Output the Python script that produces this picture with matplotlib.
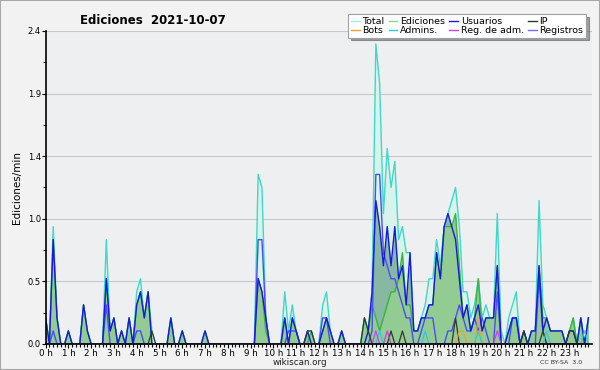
import matplotlib
matplotlib.use("Agg")
import matplotlib.pyplot as plt
from matplotlib.lines import Line2D
import numpy as np

# ediciones por minuto, un valor cada 10 minutos (6 por hora)
total = [
    0.2, 0, 0.9, 0.2, 0, 0,      0.1, 0, 0, 0, 0.3, 0.1,
    0, 0, 0, 0, 0.8, 0.1,        0.2, 0, 0.1, 0, 0.2, 0,
    0.4, 0.5, 0.2, 0.4, 0.1, 0,  0, 0, 0, 0.2, 0, 0,
    0.1, 0, 0, 0, 0, 0,          0.1, 0, 0, 0, 0, 0,
    0, 0, 0, 0, 0, 0,            0, 0, 1.3, 1.2, 0.2, 0,
    0, 0, 0, 0.4, 0.1, 0.3,      0.1, 0, 0, 0.1, 0.1, 0,
    0, 0.3, 0.4, 0.1, 0, 0,      0.1, 0, 0, 0, 0, 0,
    0.2, 0.1, 0.4, 2.3, 2.0, 1.0,    1.5, 1.2, 1.4, 0.8, 0.9, 0.7,
    0.7, 0.1, 0.1, 0.2, 0.3, 0.5,    0.5, 0.8, 0.6, 0.9, 1.0, 1.1,
    1.2, 0.9, 0.4, 0.4, 0.2, 0.3,    0.5, 0.2, 0.3, 0.2, 0.2, 1.0,
    0.1, 0, 0.2, 0.3, 0.4, 0,        0.1, 0, 0.1, 0.1, 1.1, 0.3,
    0.2, 0.1, 0.1, 0.1, 0.1, 0,      0.1, 0.2, 0, 0.2, 0, 0.2,
]
ediciones = [
    0.2, 0, 0.8, 0.2, 0, 0,      0.1, 0, 0, 0, 0.3, 0.1,
    0, 0, 0, 0, 0.5, 0.1,        0.2, 0, 0.1, 0, 0.2, 0,
    0.3, 0.4, 0.2, 0.4, 0, 0,    0, 0, 0, 0.2, 0, 0,
    0.1, 0, 0, 0, 0, 0,          0.1, 0, 0, 0, 0, 0,
    0, 0, 0, 0, 0, 0,            0, 0, 0.5, 0.4, 0.1, 0,
    0, 0, 0, 0.2, 0, 0.2,        0.1, 0, 0, 0, 0.1, 0,
    0, 0.1, 0.2, 0.1, 0, 0,      0.1, 0, 0, 0, 0, 0,
    0.2, 0.1, 0.3, 0.2, 0.1, 0.2,    0.3, 0.4, 0.4, 0.5, 0.7, 0.3,
    0.3, 0.1, 0.1, 0.2, 0.2, 0.3,    0.3, 0.7, 0.5, 0.9, 0.9, 0.9,
    1.0, 0.6, 0.2, 0.3, 0.1, 0.2,    0.5, 0.1, 0.2, 0.2, 0.2, 0.6,
    0, 0, 0.1, 0.2, 0.2, 0,          0.1, 0, 0.1, 0.1, 0.6, 0.2,
    0.2, 0.1, 0.1, 0.1, 0.1, 0,      0.1, 0.2, 0, 0.2, 0, 0.2,
]
usuarios = [
    0.2, 0, 0.8, 0.2, 0, 0,      0.1, 0, 0, 0, 0.3, 0.1,
    0, 0, 0, 0, 0.5, 0.1,        0.2, 0, 0.1, 0, 0.2, 0,
    0.3, 0.4, 0.2, 0.4, 0, 0,    0, 0, 0, 0.2, 0, 0,
    0.1, 0, 0, 0, 0, 0,          0.1, 0, 0, 0, 0, 0,
    0, 0, 0, 0, 0, 0,            0, 0, 0.5, 0.4, 0.2, 0,
    0, 0, 0, 0.2, 0, 0.2,        0.1, 0, 0, 0.1, 0, 0,
    0, 0.1, 0.2, 0.1, 0, 0,      0.1, 0, 0, 0, 0, 0,
    0, 0.1, 0.4, 1.1, 0.9, 0.6,      0.9, 0.6, 0.9, 0.5, 0.6, 0.3,
    0.7, 0.1, 0.1, 0.2, 0.2, 0.3,    0.3, 0.7, 0.5, 0.9, 1.0, 0.9,
    0.8, 0.5, 0.2, 0.3, 0.1, 0.2,    0.3, 0.1, 0.2, 0.2, 0.2, 0.6,
    0, 0, 0.1, 0.2, 0.2, 0,          0.1, 0, 0.1, 0.1, 0.6, 0.1,
    0.2, 0.1, 0.1, 0.1, 0.1, 0,      0.1, 0.1, 0, 0.2, 0, 0.2,
]
registros = [
    0, 0, 0.1, 0, 0, 0,          0, 0, 0, 0, 0, 0,
    0, 0, 0, 0, 0.3, 0,          0, 0, 0, 0, 0, 0,
    0.1, 0.1, 0, 0, 0, 0,        0, 0, 0, 0, 0, 0,
    0, 0, 0, 0, 0, 0,            0, 0, 0, 0, 0, 0,
    0, 0, 0, 0, 0, 0,            0, 0, 0.8, 0.8, 0.2, 0,
    0, 0, 0, 0, 0.1, 0.1,        0.1, 0, 0, 0, 0, 0,
    0, 0.2, 0.2, 0, 0, 0,        0, 0, 0, 0, 0, 0,
    0, 0, 0.1, 1.3, 1.3, 0.7,    0.6, 0.5, 0.5, 0.4, 0.3, 0.2,
    0.2, 0, 0, 0.1, 0.2, 0.2,    0.2, 0, 0, 0, 0.1, 0.1,
    0.2, 0.3, 0.2, 0.1, 0.1, 0.2,    0.1, 0.2, 0.1, 0, 0, 0.4,
    0, 0, 0, 0.2, 0.2, 0,        0, 0, 0, 0, 0.5, 0.1,
    0, 0, 0, 0, 0, 0,            0, 0, 0, 0, 0, 0,
]
ip = [0.0] * 144
for k, v in [(28, 0.1), (69, 0.1), (70, 0.1), (84, 0.2), (85, 0.1), (91, 0.1),
             (94, 0.1), (108, 0.2), (126, 0.1), (131, 0.1), (138, 0.1), (139, 0.1)]:
    ip[k] = v
bots = [0.0] * 144
for k, v in [(109, 0.1), (110, 0.1), (114, 0.2)]:
    bots[k] = v
admins = [0.0] * 144
for k, v in [(88, 0.1), (100, 0.1), (114, 0.1), (132, 0.1), (142, 0.1)]:
    admins[k] = v
reg_adm = [0.0] * 144
for k, v in [(87, 0.1), (90, 0.1), (119, 0.1)]:
    reg_adm[k] = v

horas = np.arange(144) / 6.0
hour_labels = ["%d h" % h for h in range(24)]

c_total = "#40d8c8"
c_edic = "#3cb43c"
c_usu = "#1818e0"
c_ip = "#303830"
c_bots = "#f0a030"
c_adm = "#30c8e0"
c_regadm = "#d040e0"
c_reg = "#4c4cf4"

fig = plt.figure(figsize=(6, 3.7), dpi=100, facecolor="#f2f2f2")
fig.patches.append(plt.Rectangle((0, 0), 1, 1, transform=fig.transFigure,
                                 fill=False, edgecolor="#a8a8a8", lw=1.5))
ax = fig.add_axes([0.076, 0.0703, 0.911, 0.846])
ax.set_facecolor("#eeeff1")

ax.fill_between(horas, total, color="#d8f3ec", lw=0)
ax.plot(horas, total, color=c_total, lw=1.0)
ax.fill_between(horas, usuarios, color="#86b8a2", lw=0)
ax.fill_between(horas, ediciones, color="#92cc92", lw=0)
ax.plot(horas, ediciones, color=c_edic, lw=1.0)
ax.plot(horas, registros, color=c_reg, lw=1.0)
ax.plot(horas, usuarios, color=c_usu, lw=1.0)
ax.plot(horas, ip, color=c_ip, lw=0.9)
ax.plot(horas, bots, color=c_bots, lw=0.9)
ax.plot(horas, admins, color=c_adm, lw=0.9)
ax.plot(horas, reg_adm, color=c_regadm, lw=0.9)

ax.set_xlim(0, 24)
ax.set_ylim(0, 2.4)
yt = [0, 0.48, 0.96, 1.44, 1.92, 2.4]
ax.set_yticks(yt)
ax.set_yticklabels(["0.0", "0.5", "1.0", "1.4", "1.9", "2.4"], fontsize=6)
ax.set_yticks([0.24, 0.72, 1.2, 1.68, 2.16], minor=True)
ax.set_xticks(range(24))
ax.set_xticklabels(hour_labels, fontsize=6.3)
ax.set_xticks(horas, minor=True)
ax.tick_params(axis="both", which="major", direction="out", length=3, width=0.8, pad=0.5)
ax.tick_params(axis="both", which="minor", direction="out", length=2.5, width=0.8)
for y in yt[1:]:
    ax.axhline(y, color="#c8c8c8", lw=0.8, zorder=0.5)
for s in ["top", "right"]:
    ax.spines[s].set_visible(False)
for s in ["left", "bottom"]:
    ax.spines[s].set_linewidth(1.2)
    ax.spines[s].set_zorder(5)
ax.set_ylabel("Ediciones/min", fontsize=7.5, labelpad=4)

fig.text(0.255, 0.945, "Ediciones  2021-10-07", fontsize=8.5, fontweight="bold",
         ha="center", va="center")
fig.text(0.5, 0.02, "wikiscan.org", fontsize=6.3, ha="center", va="center", color="#202020")
fig.text(0.935, 0.02, "CC BY-SA  3.0", fontsize=4.5, ha="center", va="center", color="#303030")

handles = [
    Line2D([], [], color="#a8e8e4", lw=1), Line2D([], [], color=c_bots, lw=1),
    Line2D([], [], color="#90d090", lw=1), Line2D([], [], color=c_adm, lw=1),
    Line2D([], [], color=c_usu, lw=1), Line2D([], [], color=c_regadm, lw=1),
    Line2D([], [], color=c_ip, lw=1), Line2D([], [], color="#7070f0", lw=1),
]
labels = ["Total", "Bots", "Ediciones", "Admins.", "Usuarios", "Reg. de adm.", "IP", "Registros"]
leg = fig.legend(handles, labels, ncol=4, loc="upper right", bbox_to_anchor=(0.985, 0.975),
                 fontsize=6.8, handlelength=0.9, handletextpad=0.3, columnspacing=0.45,
                 labelspacing=0.0, borderpad=0.3, fancybox=False, shadow=True,
                 framealpha=1, edgecolor="#a0a0a0")
leg.get_frame().set_linewidth(0.8)

fig.savefig("out.png", dpi=100, facecolor=fig.get_facecolor())
